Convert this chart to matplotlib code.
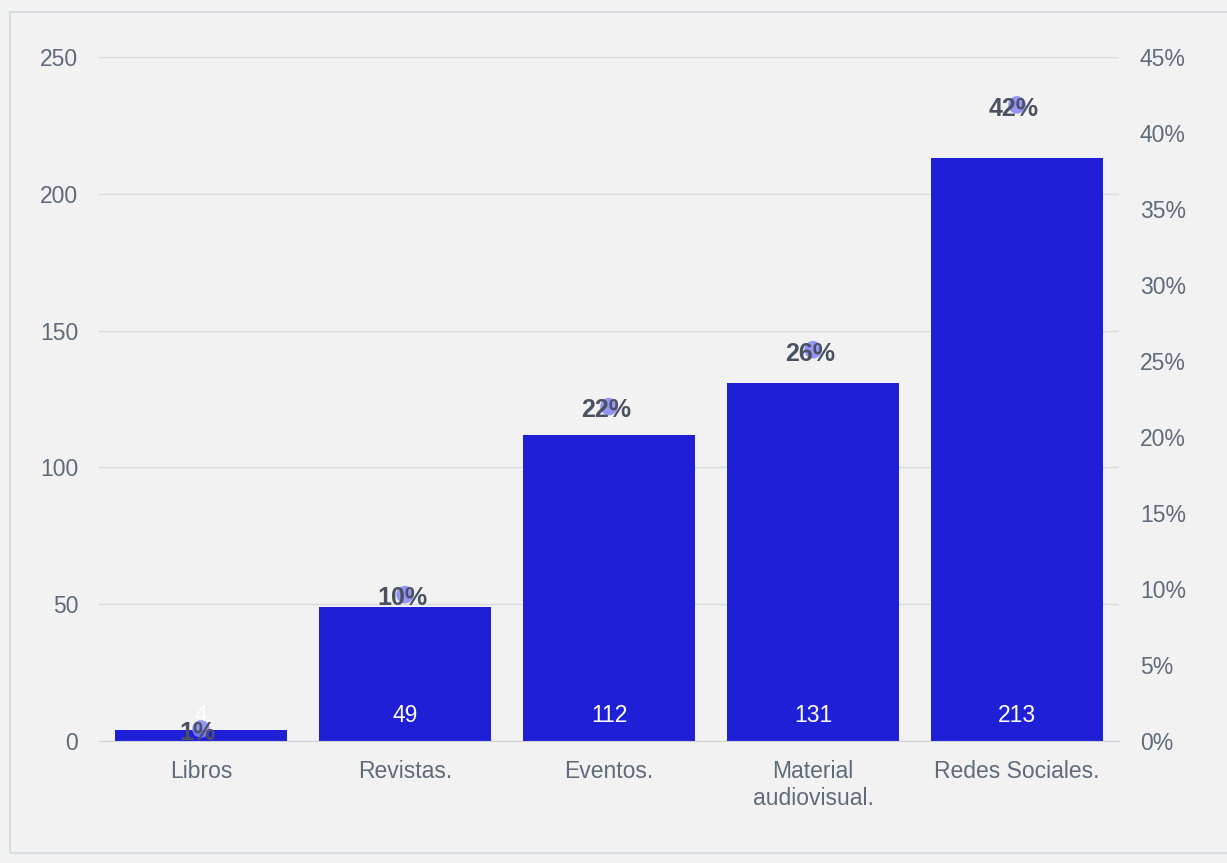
import matplotlib.pyplot as plt
from matplotlib.patches import Rectangle

plt.rcParams['font.family'] = ['Liberation Sans', 'DejaVu Sans']

# Datos
categorias = ['Libros', 'Revistas.', 'Eventos.', 'Material\naudiovisual.', 'Redes Sociales.']
cantidades = [4, 49, 112, 131, 213]
porcentajes = [0.79, 9.63, 22.0, 25.74, 41.85]
etiquetas_pct = ['1%', '10%', '22%', '26%', '42%']

fondo = '#f2f2f3'
azul = '#1f1fd8'
gris_texto = '#5f6b7a'
gris_pct = '#4a5160'
tam = 16.5

fig = plt.figure(figsize=(12.27, 8.63), dpi=100, facecolor=fondo)
fig.patches.append(Rectangle((10 / 1227, 0.012), 1.0, 1 - 12 / 863 - 0.012,
                             transform=fig.transFigure, fill=False,
                             edgecolor='#d9dbe0', linewidth=1.5))

ax = fig.add_axes([99 / 1227, 1 - 741 / 863, 1020 / 1227, 684 / 863])
ax.set_facecolor('none')
x = range(len(categorias))
ax.bar(x, cantidades, width=0.84, color=azul, zorder=2)
ax.set_xlim(-0.5, 4.5)
ax.set_ylim(0, 250)
ax.set_yticks([0, 50, 100, 150, 200, 250])
ax.set_xticks(list(x))
ax.set_xticklabels(categorias, fontsize=tam, color=gris_texto, linespacing=1.2)
ax.tick_params(axis='both', length=0, colors=gris_texto, labelsize=tam)
ax.tick_params(axis='y', pad=15)
ax.tick_params(axis='x', pad=14)
ax.grid(axis='y', color='#d9dbe0', linewidth=1, zorder=0)
for s in ax.spines.values():
    s.set_visible(False)
ax.spines['bottom'].set_visible(True)
ax.spines['bottom'].set_color('#d0d3d9')

for i, v in enumerate(cantidades):
    ax.text(i, 9.5, str(v), ha='center', va='center', color='white', fontsize=tam, zorder=3)

ax2 = ax.twinx()
ax2.set_ylim(0, 45)
ax2.set_yticks(range(0, 50, 5))
ax2.set_yticklabels([f'{t}%' for t in range(0, 50, 5)])
ax2.tick_params(axis='y', length=0, colors=gris_texto, labelsize=tam, pad=15)
for s in ax2.spines.values():
    s.set_visible(False)
ax2.scatter(list(x), porcentajes, s=160, color='#8585fa', alpha=0.85, zorder=4, edgecolors='none')
for i, (p, lab) in enumerate(zip(porcentajes, etiquetas_pct)):
    ax2.text(i - 0.015, p - 0.25, lab, ha='center', va='center', fontsize=18,
             fontweight='bold', color=gris_pct, zorder=5)

fig.savefig('out.png', dpi=100, facecolor=fondo)
